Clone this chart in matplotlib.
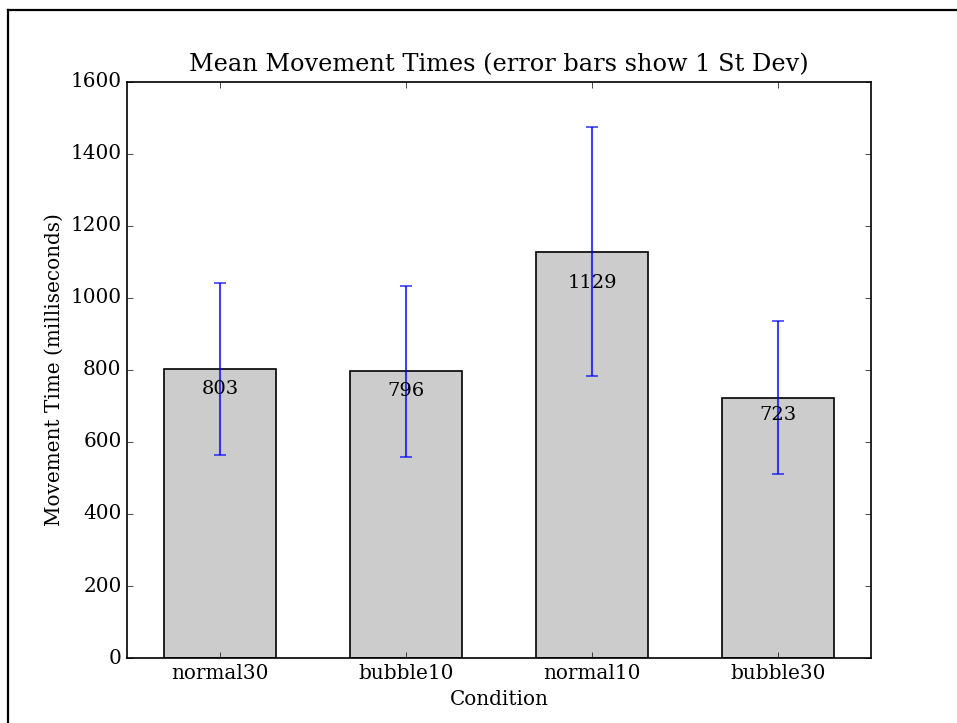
import numpy as np
import matplotlib
matplotlib.use("Agg")
import matplotlib.pyplot as plt
from matplotlib.lines import Line2D

conditions = ["normal30", "bubble10", "normal10", "bubble30"]
mean_times = [803, 796, 1129, 723]
std_times = [238, 237, 346, 213]

plt.style.use("classic")
plt.rcParams["font.family"] = ["DejaVu Serif"]
plt.rcParams["figure.facecolor"] = "white"
plt.rcParams["font.size"] = 14.4

fig = plt.figure(figsize=(9.57, 7.23), dpi=100)
ax = fig.add_axes([0.1327, 0.0899, 0.7774, 0.7967])

x = np.arange(len(conditions))
ax.bar(x, mean_times, width=0.6, align="center", color="0.8", edgecolor="black", linewidth=1.2)
ax.errorbar(x, mean_times, yerr=std_times, fmt="none", ecolor="blue", alpha=0.75,
            elinewidth=1.5, capsize=4, capthick=1.2)

for xi, h in zip(x, mean_times):
    ax.text(xi, 0.9 * h, f"{h}", ha="center", va="bottom", fontsize=14)

ax.set_xlim(-0.5, len(conditions) - 0.5)
ax.set_ylim(0, 1600)
ax.set_yticks(np.arange(0, 1601, 200))
ax.set_xticks(x)
ax.set_xticklabels(conditions)
ax.tick_params(labelsize=14.4)
for s in ax.spines.values():
    s.set_linewidth(1.2)
ax.set_xlabel("Condition", fontsize=14.4, labelpad=5)
ax.set_ylabel("Movement Time (milliseconds)", fontsize=14.4)
ax.set_title("Mean Movement Times (error bars show 1 St Dev)", fontsize=17.3, pad=8)

# frame of the original (cropped) figure window
fig.add_artist(Line2D([8 / 957, 1.0], [1 - 10 / 723, 1 - 10 / 723], color="black", lw=1.6,
                      transform=fig.transFigure))
fig.add_artist(Line2D([8 / 957, 8 / 957], [0.0, 1 - 10 / 723], color="black", lw=1.6,
                      transform=fig.transFigure))

fig.savefig("out.png", dpi=100, facecolor="white")
